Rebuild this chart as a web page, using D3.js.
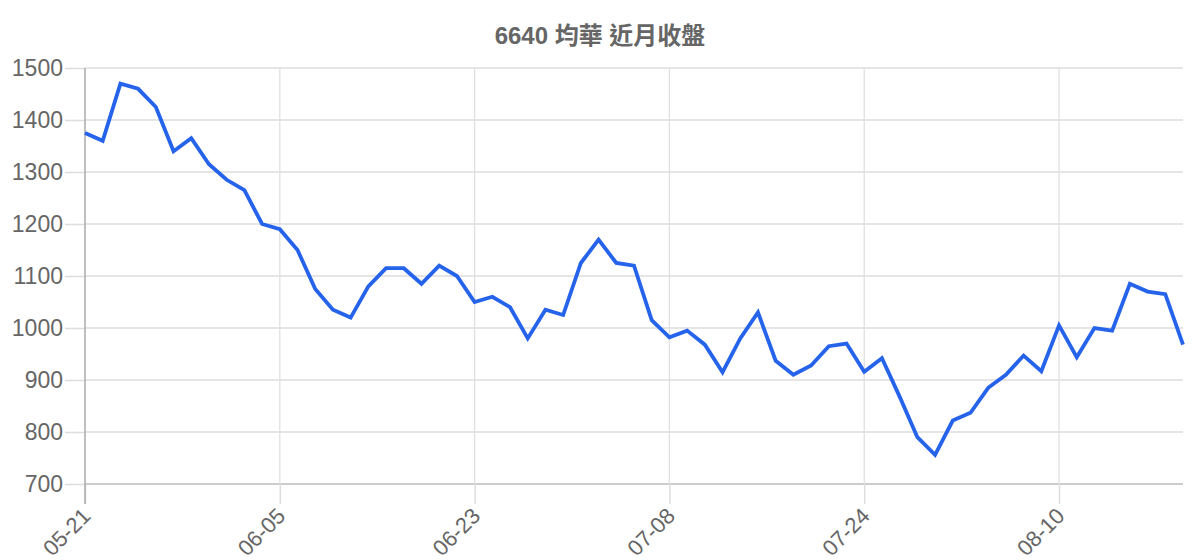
<!DOCTYPE html>
<html>
<head>
<meta charset="utf-8">
<script src="https://cdn.jsdelivr.net/npm/d3@7"></script>
<style>
  body { margin: 0; background: #fff; }
  text { font-family: "Liberation Sans", Arial, "Noto Sans CJK TC", sans-serif; }
</style>
</head>
<body>
<div id="chart"></div>
<script>
const width = 1200;
const height = 560;
const margin = {top: 68, right: 17, bottom: 76, left: 85};

const title = "6640 均華 近月收盤";

// trading dates (only every 11th is labelled)
const dates = [
  "05-21", "05-22", "05-23", "05-24", "05-27", "05-28", "05-29", "05-30", "05-31", "06-03", "06-04",
  "06-05", "06-06", "06-07", "06-10", "06-11", "06-12", "06-13", "06-16", "06-17", "06-18", "06-19",
  "06-23", "06-24", "06-25", "06-26", "06-27", "06-30", "07-01", "07-02", "07-03", "07-04", "07-07",
  "07-08", "07-09", "07-10", "07-11", "07-14", "07-15", "07-16", "07-17", "07-18", "07-21", "07-22",
  "07-24", "07-25", "07-28", "07-29", "07-30", "07-31", "08-01", "08-04", "08-05", "08-06", "08-07",
  "08-10", "08-11", "08-12", "08-13", "08-14", "08-15", "08-18", "08-19"
];

// closing prices
const closes = [
  1375, 1360, 1470, 1460, 1425, 1340, 1365, 1315, 1285, 1265, 1200,
  1190, 1150, 1075, 1035, 1020, 1080, 1115, 1115, 1085, 1120, 1100,
  1050, 1060, 1040, 980, 1035, 1025, 1125, 1170, 1125, 1120, 1015,
  982, 995, 968, 915, 980, 1030, 937, 910, 928, 965, 970,
  916, 942, 868, 790, 756, 822, 837, 885, 910, 947, 917,
  1005, 944, 1000, 995, 1085, 1070, 1065, 968
];

const yTicks = [700, 800, 900, 1000, 1100, 1200, 1300, 1400, 1500];

const data = dates.map((d, i) => ({date: d, close: closes[i]}));

const svg = d3.select("#chart")
    .append("svg")
    .attr("width", width)
    .attr("height", height);

const x = d3.scalePoint()
    .domain(dates)
    .range([margin.left, width - margin.right]);

const y = d3.scaleLinear()
    .domain([700, 1500])
    .range([height - margin.bottom, margin.top]);

// title
svg.append("text")
    .attr("x", 600)
    .attr("y", 44)
    .attr("text-anchor", "middle")
    .attr("font-size", 24)
    .attr("font-weight", "bold")
    .attr("fill", "#666")
    .text(title);

// horizontal grid + y labels
const yAxis = svg.append("g")
    .attr("transform", `translate(${margin.left},0)`)
    .call(d3.axisLeft(y)
        .tickValues(yTicks)
        .tickSize(20)
        .tickPadding(2)
        .tickFormat(d3.format("d")));
yAxis.select(".domain").remove();
yAxis.selectAll(".tick line").attr("stroke", "#ddd").attr("stroke-width", 1.5);
yAxis.selectAll(".tick text")
    .attr("fill", "#666")
    .attr("font-size", 23)
    .attr("font-family", "Liberation Sans, Arial, sans-serif");

svg.append("g")
    .selectAll("line")
    .data(yTicks)
    .join("line")
    .attr("x1", margin.left)
    .attr("x2", width - margin.right)
    .attr("y1", d => y(d))
    .attr("y2", d => y(d))
    .attr("stroke", d => d === 700 ? "#ccc" : "#ddd")
    .attr("stroke-width", d => d === 700 ? 2 : 1.5);

// vertical grid + x labels
const labelled = dates.filter((d, i) => i % 11 === 0);
const xAxis = svg.append("g")
    .attr("transform", `translate(0,${height - margin.bottom})`)
    .call(d3.axisBottom(x)
        .tickValues(labelled)
        .tickSize(20)
        .tickPadding(0));
xAxis.select(".domain").remove();
xAxis.selectAll(".tick line").attr("stroke", "#ddd").attr("stroke-width", 1.5);
xAxis.selectAll(".tick text")
    .attr("fill", "#666")
    .attr("font-size", 22)
    .attr("font-family", "Liberation Sans, Arial, sans-serif")
    .attr("text-anchor", "end")
    .attr("y", 0)
    .attr("dy", "0.35em")
    .attr("transform", "translate(1,28) rotate(-45)");

svg.append("g")
    .selectAll("line")
    .data(labelled.slice(1))
    .join("line")
    .attr("x1", d => x(d))
    .attr("x2", d => x(d))
    .attr("y1", margin.top)
    .attr("y2", height - margin.bottom)
    .attr("stroke", "#e0e0e0")
    .attr("stroke-width", 1.3);

// left axis line
svg.append("line")
    .attr("x1", margin.left)
    .attr("x2", margin.left)
    .attr("y1", margin.top)
    .attr("y2", height - margin.bottom + 20)
    .attr("stroke", "#aaa")
    .attr("stroke-width", 1.5);

// price line
const line = d3.line()
    .x(d => x(d.date))
    .y(d => y(d.close));

svg.append("path")
    .datum(data)
    .attr("fill", "none")
    .attr("stroke", "#2563eb")
    .attr("stroke-width", 3.8)
    .attr("stroke-linejoin", "miter")
    .attr("d", line);
</script>
</body>
</html>
